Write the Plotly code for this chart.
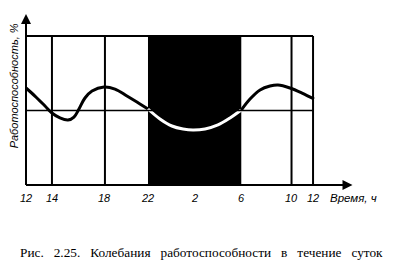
import plotly.graph_objects as go

# Time axis (hours elapsed from 12:00, positions)
tick_pos = [0, 2.17, 6.6, 10.2, 14.1, 18.0, 22.2, 24.0]
tick_labels = ["12", "14", "18", "22", "2", "6", "10", "12"]
grid_pos = [2.17, 6.6, 22.2, 24.0]
night_start, night_end = 10.2, 18.0

# Performance curve (% of scale)
curve_t = [0.0, 0.75, 1.59, 2.17, 2.84, 3.51, 4.01, 4.43, 4.93, 5.52, 6.52,
           7.44, 8.44, 9.53, 10.2, 11.2, 12.2, 13.13, 13.96, 14.97, 16.05,
           17.06, 18.0, 18.73, 19.57, 20.4, 21.07, 22.07, 23.08, 24.08]
curve_v = [65.1, 59.7, 53.0, 48.3, 45.0, 43.6, 45.6, 51.0, 58.4, 63.1, 65.8,
           64.4, 59.7, 54.4, 51.0, 44.3, 39.6, 37.6, 36.9, 37.6, 40.3,
           45.0, 50.3, 57.7, 63.8, 66.4, 67.1, 65.1, 61.7, 57.7]

y_top, y_mid = 100, 50
y_arrow_top, x_arrow_end = 114.8, 27.3

fig = go.Figure()

# night (black band)
fig.add_shape(type="rect", x0=night_start, x1=night_end, y0=0, y1=y_top,
              fillcolor="black", line=dict(width=0), layer="below")

# frame / grid
for gx in grid_pos:
    fig.add_shape(type="line", x0=gx, x1=gx, y0=0, y1=y_top,
                  line=dict(color="black", width=2))
fig.add_shape(type="line", x0=0, x1=24.0, y0=y_top, y1=y_top,
              line=dict(color="black", width=2))
fig.add_shape(type="line", x0=0, x1=24.0, y0=y_mid, y1=y_mid,
              line=dict(color="black", width=1.5))
# axis lines
fig.add_shape(type="line", x0=0, x1=0, y0=0, y1=y_arrow_top - 3,
              line=dict(color="black", width=2))
fig.add_shape(type="line", x0=0, x1=x_arrow_end - 0.4, y0=0, y1=0,
              line=dict(color="black", width=2))

# curve: black by day, white during night
day1_t = [t for t in curve_t if t <= night_start]
day1_v = [v for t, v in zip(curve_t, curve_v) if t <= night_start]
night_t = [t for t in curve_t if night_start <= t <= night_end]
night_v = [v for t, v in zip(curve_t, curve_v) if night_start <= t <= night_end]
day2_t = [t for t in curve_t if t >= night_end]
day2_v = [v for t, v in zip(curve_t, curve_v) if t >= night_end]
for xs, ys, col in [(day1_t, day1_v, "black"), (night_t, night_v, "white"),
                    (day2_t, day2_v, "black")]:
    fig.add_trace(go.Scatter(x=xs, y=ys, mode="lines",
                             line=dict(color=col, width=3, shape="spline"),
                             hoverinfo="skip"))

# arrow heads
fig.add_annotation(x=0, y=y_arrow_top, ax=0, ay=20, xref="x", yref="y",
                   showarrow=True, arrowhead=2, arrowsize=1, arrowwidth=2,
                   arrowcolor="black", text="")
fig.add_annotation(x=x_arrow_end, y=0, ax=-20, ay=0, xref="x", yref="y",
                   showarrow=True, arrowhead=2, arrowsize=1, arrowwidth=2,
                   arrowcolor="black", text="")

tick_font = dict(family="Liberation Sans", size=11, color="black")
for p, lab in zip(tick_pos, tick_labels):
    fig.add_annotation(x=p, y=-8.5, text=f"<i>{lab}</i>", showarrow=False,
                       font=tick_font, xanchor="center", yanchor="middle")
fig.add_annotation(x=25.25, y=-8.5, text="<i>Время, ч</i>", showarrow=False,
                   font=dict(family="Liberation Sans", size=11.5, color="black"),
                   xanchor="left", yanchor="middle")
fig.add_annotation(x=-1.05, y=66.5, text="<i>Работоспособность, %</i>",
                   showarrow=False, textangle=-90, font=tick_font,
                   xanchor="center", yanchor="middle")
caption_words = ["Рис.", "2.25.", "Колебания", "работоспособности", "в",
                 "течение", "суток"]
fig.add_annotation(x=14.67, y=-45.6,
                   text="&nbsp;&nbsp; ".join(caption_words),
                   showarrow=False,
                   font=dict(family="Liberation Serif", size=13.3, color="black"),
                   xanchor="center", yanchor="middle")

fig.update_layout(
    width=404, height=265, margin=dict(l=0, r=0, t=0, b=0),
    paper_bgcolor="white", plot_bgcolor="white", showlegend=False,
    xaxis=dict(range=[-2.174, 31.605], visible=False, fixedrange=True),
    yaxis=dict(range=[-53.69, 124.16], visible=False, fixedrange=True),
)

fig.write_html("out.html")
